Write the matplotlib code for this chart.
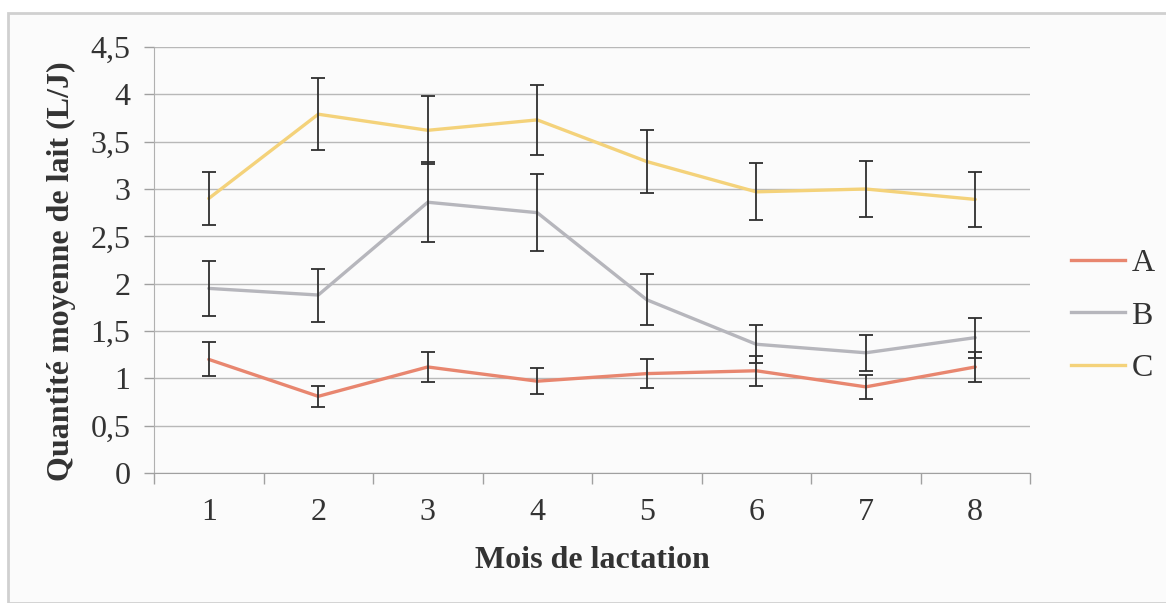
import matplotlib.pyplot as plt
from matplotlib.patches import Rectangle
from matplotlib.lines import Line2D

mois = [1, 2, 3, 4, 5, 6, 7, 8]
a_moy = [1.20, 0.81, 1.12, 0.97, 1.05, 1.08, 0.91, 1.12]
a_err = [0.18, 0.11, 0.16, 0.14, 0.15, 0.16, 0.13, 0.16]
b_moy = [1.95, 1.88, 2.86, 2.75, 1.83, 1.36, 1.27, 1.43]
b_err = [0.29, 0.28, 0.42, 0.41, 0.27, 0.20, 0.19, 0.21]
c_moy = [2.90, 3.79, 3.62, 3.73, 3.29, 2.97, 3.00, 2.89]
c_err = [0.28, 0.38, 0.36, 0.37, 0.33, 0.30, 0.30, 0.29]
y_ticks = [0, 0.5, 1, 1.5, 2, 2.5, 3, 3.5, 4, 4.5]
y_labels = ['0', '0,5', '1', '1,5', '2', '2,5', '3', '3,5', '4', '4,5']

couleurs = {'A': '#e8866f', 'B': '#b6b6bc', 'C': '#f4d27a'}
series = [('A', a_moy, a_err), ('B', b_moy, b_err), ('C', c_moy, c_err)]

plt.rcParams['font.family'] = ['Liberation Serif', 'DejaVu Serif']

fig = plt.figure(figsize=(11.66, 6.03), dpi=100, facecolor='white')
fig.patches.append(Rectangle((8 / 1166, 0), 1.0, 1 - 13 / 603, transform=fig.transFigure,
                             facecolor='#fbfbfb', edgecolor='#d0d0d0', linewidth=2.0,
                             zorder=-10))
ax = fig.add_axes([154 / 1166, 1 - 473 / 603, (1030 - 154) / 1166, (473 - 47) / 603])
ax.set_facecolor('#fbfbfb')

for nom, moy, err in series:
    ax.plot(mois, moy, color=couleurs[nom], linewidth=2.4, solid_capstyle='round', zorder=2)
for nom, moy, err in series:
    ax.errorbar(mois, moy, yerr=err, fmt='none', ecolor='#2f2f2f', elinewidth=1.3,
                capsize=5, capthick=1.3, zorder=3)

ax.set_xlim(0.5, 8.5)
ax.set_ylim(0, 4.5)
ax.set_yticks(y_ticks)
ax.set_yticklabels(y_labels)
ax.set_xticks(mois)
ax.set_xticks([m - 0.5 for m in mois] + [8.5], minor=True)
ax.tick_params(axis='x', which='major', length=0, pad=18, labelsize=23, labelcolor='#333333')
ax.tick_params(axis='x', which='minor', length=8, color='#a0a0a0', width=1)
ax.tick_params(axis='y', length=7, color='#a0a0a0', width=1, pad=10, labelsize=23,
               labelcolor='#333333')
ax.grid(axis='y', color='#b8b8b8', linewidth=1)
ax.set_axisbelow(True)
for s in ['top', 'right']:
    ax.spines[s].set_visible(False)
ax.spines['left'].set_color('#b0b0b0')
ax.spines['bottom'].set_color('#a0a0a0')

ax.set_xlabel('Mois de lactation', fontsize=23, fontweight='bold', color='#333333')
ax.xaxis.set_label_coords(0.5, (473 - 560) / 426)
ax.xaxis.label.set_va('center')
ax.set_ylabel('Quantité moyenne de lait (L/J)', fontsize=23, fontweight='bold',
              color='#333333')
ax.yaxis.set_label_coords((61 - 154) / 876, (473 - 271) / 426)
ax.yaxis.label.set_va('center')

handles = [Line2D([], [], color=couleurs[n], linewidth=2.4) for n, _, _ in series]
fig.legend(handles, [n for n, _, _ in series], loc='center left',
           bbox_to_anchor=(1042 / 1166, 1 - 316 / 603), frameon=False, fontsize=23,
           handlelength=1.7, handletextpad=0.2, labelspacing=0.73, labelcolor='#333333')

fig.savefig('out.png', dpi=100, facecolor='white')
